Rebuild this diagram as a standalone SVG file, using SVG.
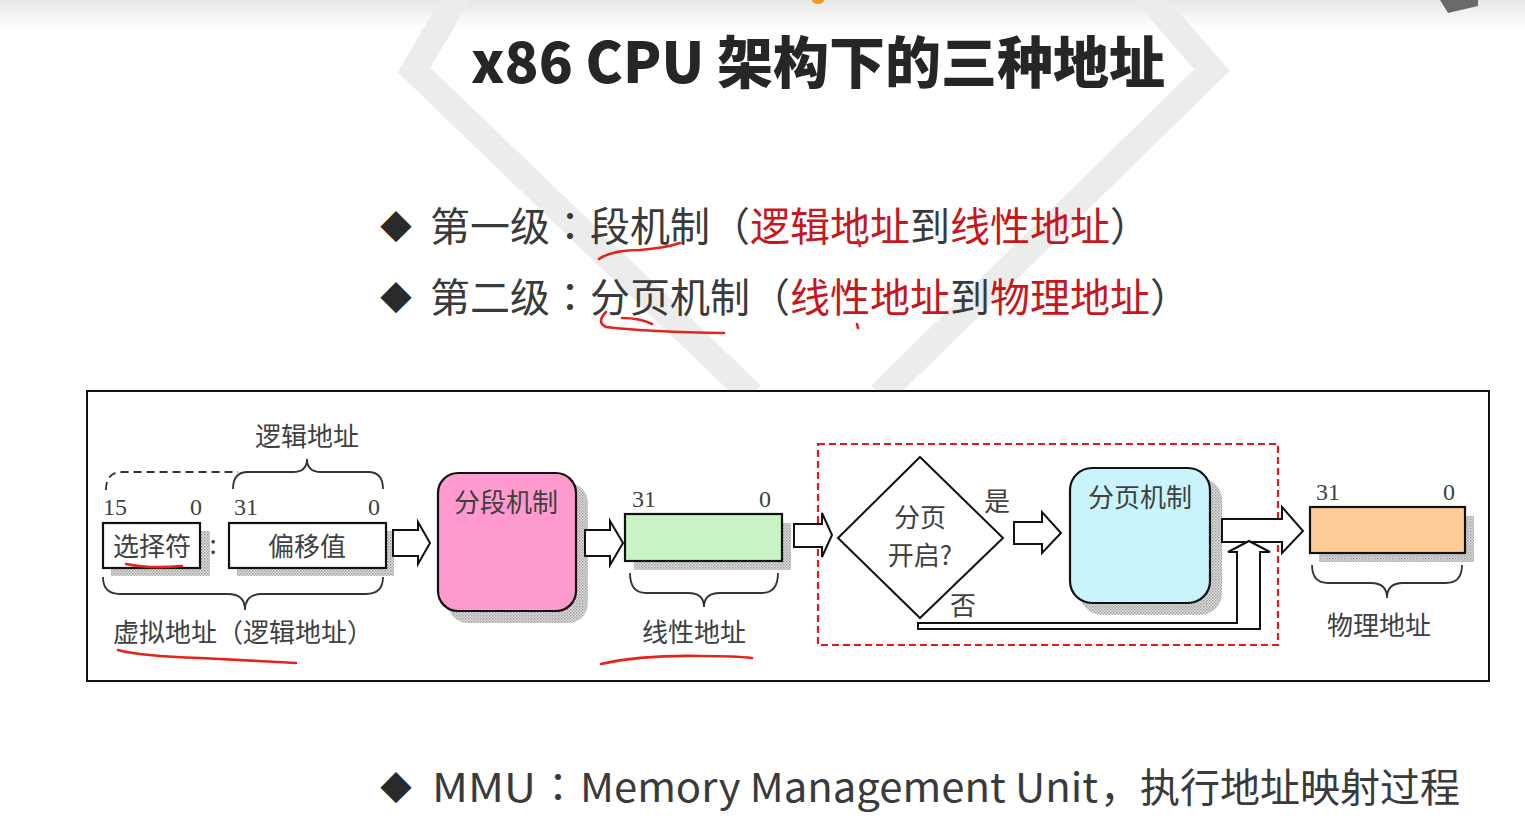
<svg xmlns="http://www.w3.org/2000/svg" width="1525" height="835" viewBox="0 0 1525 835">
<defs>
<linearGradient id="topfade" x1="0" y1="0" x2="0" y2="1">
<stop offset="0" stop-color="#e6e6e6"/>
<stop offset="1" stop-color="#ffffff"/>
</linearGradient>
<pattern id="dots" width="3" height="3" patternUnits="userSpaceOnUse">
<rect width="3" height="3" fill="#e2e2e2"/>
<rect width="1.5" height="1.5" fill="#9a9a9a"/>
<rect x="1.5" y="1.5" width="1.5" height="1.5" fill="#b0b0b0"/>
</pattern>
<style>
.bul{font-family:"Noto Sans CJK SC","Noto Sans",sans-serif;font-size:40px;fill:#3a3a3a}
.tc{font-family:"Noto Sans CJK TC","Noto Sans CJK SC",sans-serif}
.dia{font-family:"Noto Sans CJK SC","Noto Sans",sans-serif;font-size:32px;fill:#2a2a2a}
.red{fill:#c8161d}
.dg{font-family:"Noto Sans CJK SC",sans-serif;font-size:26px;fill:#404040}
.num{font-family:"Liberation Serif",serif;font-size:24px;fill:#404040}
.box{stroke:#111;stroke-width:2.2}
.shadow{fill:url(#dots)}
.brace{fill:none;stroke:#333;stroke-width:1.8}
.hollow{fill:#fff;stroke:#111;stroke-width:2}
.ink{fill:none;stroke:#e5231b;stroke-width:2.6;stroke-linecap:round;stroke-linejoin:round}
</style>
</defs>
<rect width="1525" height="835" fill="#ffffff"/>
<rect width="1525" height="28" fill="url(#topfade)"/>
<ellipse cx="818" cy="0" rx="6" ry="4" fill="#f39a1e"/>
<polygon points="1440,0 1478,0 1478,6 1448,13" fill="#6a6a6a"/>
<g id="bg-hexagon" fill="none" stroke="#ececec" stroke-width="26" stroke-linejoin="miter">
<polyline points="464,-15 414,70 752,395"/>
<polyline points="1138,-15 1212,70 880,395"/>
</g>

<g id="title">
<text x="818" y="83" text-anchor="middle" font-family="'Noto Sans CJK SC','Noto Sans',sans-serif" font-size="56" font-weight="900" fill="#262626">x86 CPU 架构下的三种地址</text>
</g>

<g id="bullets">
<text class="dia" x="380" y="239">◆</text>
<text class="bul" y="241"><tspan x="430">第一级</tspan><tspan x="550" class="tc">：</tspan><tspan x="590">段机制</tspan><tspan x="710">（</tspan><tspan x="750" class="red">逻辑地址</tspan><tspan x="910">到</tspan><tspan x="950" class="red">线性地址</tspan><tspan x="1110">）</tspan></text>
<text class="dia" x="380" y="310">◆</text>
<text class="bul" y="312"><tspan x="430">第二级</tspan><tspan x="550" class="tc">：</tspan><tspan x="590">分页机制</tspan><tspan x="750">（</tspan><tspan x="790" class="red">线性地址</tspan><tspan x="950">到</tspan><tspan x="990" class="red">物理地址</tspan><tspan x="1150">）</tspan></text>
<text class="dia" x="380" y="800">◆</text>
<text class="bul" y="802"><tspan x="432" textLength="104" lengthAdjust="spacingAndGlyphs">MMU</tspan><tspan x="538" class="tc">：</tspan><tspan x="580" textLength="518" lengthAdjust="spacingAndGlyphs">Memory Management Unit</tspan><tspan x="1100">，</tspan><tspan x="1140">执行地址映射过程</tspan></text>
<path class="ink" d="M599,259 Q612,250 640,250 Q665,248 680,243"/>
<path class="ink" d="M858,240 L860,246"/>
<path class="ink" d="M606,312 Q596,322 606,327 Q650,332 724,333"/>
<path class="ink" d="M622,318 Q640,318 652,324"/>
<path class="ink" d="M857,324 L858,328"/>
</g>

<g id="diagram-frame">
<rect x="87" y="391" width="1402" height="290" fill="#ffffff" stroke="#111" stroke-width="2"/>
</g>

<g id="logical-address">
<text class="dg" x="307" y="446" text-anchor="middle">逻辑地址</text>
<path class="brace" d="M233,489 Q233,472 248,472 L293,472 Q307,472 307,459 Q307,472 321,472 L368,472 Q383,472 383,489"/>
<path class="brace" stroke-dasharray="8,5" d="M106,490 Q106,472 122,472 L238,472"/>
</g>

<g id="selector">
<rect class="shadow" x="111" y="531" width="99" height="45"/>
<rect class="box" x="103" y="523" width="97" height="45" fill="#fff"/>
<text class="num" x="103" y="515">15</text>
<text class="num" x="190" y="515">0</text>
<text class="dg" x="152" y="556" text-anchor="middle">选择符</text>
<text class="dg" x="213" y="554" text-anchor="middle">:</text>
</g>

<g id="offset">
<rect class="shadow" x="237" y="531" width="157" height="45"/>
<rect class="box" x="229" y="523" width="157" height="45" fill="#fff"/>
<text class="num" x="234" y="515">31</text>
<text class="num" x="368" y="515">0</text>
<text class="dg" x="307" y="556" text-anchor="middle">偏移值</text>
</g>

<g id="virtual-address">
<path class="brace" d="M103,577 Q103,594 120,594 L228,594 Q245,594 245,610 Q245,594 262,594 L366,594 Q383,594 383,577"/>
<text class="dg" x="113" y="642">虚拟地址（逻辑地址）</text>
<path class="ink" d="M126,564 Q150,569 182,566"/>
<path class="ink" d="M118,650 Q140,656 200,658 Q260,661 296,663"/>
</g>

<g id="segmentation">
<rect class="shadow" x="448" y="483" width="140" height="140" rx="20"/>
<rect class="box" x="438" y="473" width="138" height="138" rx="20" fill="#ff9ace"/>
<text class="dg" x="506" y="512" text-anchor="middle">分段机制</text>
</g>

<g id="linear-address">
<rect class="shadow" x="634" y="523" width="157" height="47"/>
<rect class="box" x="625" y="514" width="157" height="47" fill="#c9f3c4"/>
<text class="num" x="632" y="507">31</text>
<text class="num" x="759" y="507">0</text>
<path class="brace" d="M630,573 Q630,593 646,593 L688,593 Q704,593 704,607 Q704,593 720,593 L762,593 Q778,593 778,573"/>
<text class="dg" x="694" y="642" text-anchor="middle">线性地址</text>
<path class="ink" d="M601,664 Q640,655 700,656 Q735,656 752,658"/>
</g>

<g id="paging-region">
<rect x="818" y="444" width="460" height="201" fill="none" stroke="#e3191c" stroke-width="2.2" stroke-dasharray="7,4"/>
</g>

<g id="decision">
<polygon points="920,457 1003,538 920,618 838,538" fill="#fff" stroke="#111" stroke-width="2"/>
<text class="dg" x="920" y="527" text-anchor="middle">分页</text>
<text class="dg" x="920" y="565" text-anchor="middle">开启?</text>
<text class="dg" x="997" y="511" text-anchor="middle">是</text>
<text class="dg" x="963" y="615" text-anchor="middle">否</text>
</g>

<g id="paging">
<rect class="shadow" x="1080" y="478" width="142" height="137" rx="22"/>
<rect class="box" x="1070" y="468" width="140" height="135" rx="22" fill="#c9f4fc"/>
<text class="dg" x="1140" y="507" text-anchor="middle">分页机制</text>
</g>

<g id="physical-address">
<rect class="shadow" x="1319" y="516" width="155" height="46"/>
<rect class="box" x="1310" y="507" width="155" height="46" fill="#ffcc99"/>
<text class="num" x="1316" y="500">31</text>
<text class="num" x="1443" y="500">0</text>
<path class="brace" d="M1312,565 Q1312,583 1328,583 L1371,583 Q1387,583 1387,598 Q1387,583 1403,583 L1446,583 Q1462,583 1462,565"/>
<text class="dg" x="1379" y="635" text-anchor="middle">物理地址</text>
</g>

<g id="connectors">
<polygon class="hollow" points="393,530 418,530 418,522 430,543 418,564 418,556 393,556"/>
<polygon class="hollow" points="585,530 610,530 610,521 623,543 610,565 610,556 585,556"/>
<polygon class="hollow" points="794,524 822,524 822,513 832,535 822,557 822,547 794,547"/>
<polygon class="hollow" points="1014,522 1042,522 1042,512 1061,533 1042,553 1042,544 1014,544"/>
<polygon class="hollow" points="1222,519 1282,519 1282,507 1303,531 1282,553 1282,542 1222,542"/>
<polygon class="hollow" points="918,623 1237,623 1237,552 1228,552 1249,541 1270,552 1260,552 1260,629 918,629"/>
</g>
</svg>
